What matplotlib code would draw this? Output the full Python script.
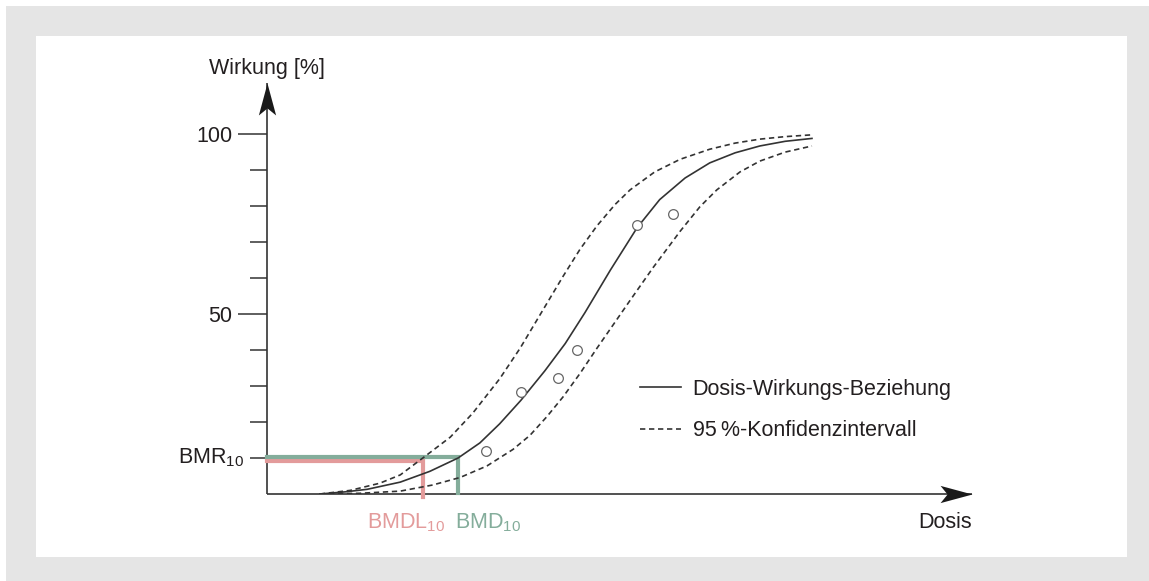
import numpy as np
import matplotlib
matplotlib.use('Agg')
import matplotlib.pyplot as plt
from matplotlib.path import Path
from matplotlib.patches import Rectangle
from matplotlib import transforms

plt.rcParams['font.family'] = ['Liberation Sans', 'DejaVu Sans']
plt.rcParams['mathtext.fontset'] = 'custom'
plt.rcParams['mathtext.rm'] = 'Liberation Sans'

# dose-response fit and its 95 % band (dose in arbitrary units, effect in %)
dose_fit = [0.75, 1.11, 1.42, 1.89, 2.31, 2.71, 3.02, 3.30, 3.60, 3.94, 4.23,
            4.51, 4.87, 5.25, 5.57, 5.93, 6.28, 6.64, 6.99, 7.35, 7.73]
resp_fit = [0.0, 0.6, 1.3, 3.3, 6.3, 10.0, 14.2, 19.5, 26.0, 34.2, 41.8,
            50.4, 62.2, 74.0, 81.8, 87.8, 92.0, 94.8, 96.7, 98.0, 98.8]

dose_upper = [0.75, 1.18, 1.60, 1.89, 2.21, 2.60, 2.92, 3.30, 3.59, 3.91, 4.20,
              4.44, 4.68, 4.94, 5.15, 5.50, 5.86, 6.28, 6.64, 6.99, 7.35, 7.73]
resp_upper = [0.0, 1.0, 3.0, 5.3, 10.0, 15.8, 22.5, 32.0, 40.5, 51.0, 60.5,
              68.0, 74.5, 80.5, 84.5, 89.5, 93.0, 95.8, 97.5, 98.6, 99.3, 99.8]

dose_lower = [0.75, 1.32, 1.89, 2.35, 2.74, 3.12, 3.49, 3.73, 3.97, 4.20, 4.44,
              4.68, 4.91, 5.15, 5.48, 5.86, 6.14, 6.38, 6.71, 6.99, 7.35, 7.73]
resp_lower = [0.0, 0.2, 0.8, 2.5, 4.6, 7.8, 12.4, 16.3, 21.5, 27.0, 33.5,
              40.5, 47.0, 53.8, 63.0, 73.0, 79.8, 84.5, 89.5, 92.5, 95.0, 96.7]

# observed responses
dose_obs = [3.11, 3.60, 4.13, 4.40, 5.25, 5.76]
resp_obs = [11.9, 28.3, 32.2, 40.0, 74.7, 77.8]

bmr = 10
bmd = 2.71
bmdl = 2.21

ink = '#333333'
text_col = '#231f20'
green = '#84ad9b'
pink = '#e39b9b'
fs = 15.5

fig = plt.figure(figsize=(11.49, 5.81), dpi=100)
fig.patches.append(Rectangle((6 / 1149, 0), 1, 575 / 581, transform=fig.transFigure,
                             facecolor='#e5e5e5', edgecolor='none', zorder=-2))
fig.patches.append(Rectangle((36 / 1149, 24 / 581), 1091 / 1149, 521 / 581,
                             transform=fig.transFigure, facecolor='white',
                             edgecolor='none', zorder=-1))

ax = fig.add_axes([267 / 1149, 87 / 581, 705 / 1149, 411 / 581])
ax.set_facecolor('none')
ax.set_xlim(0, 10)
ax.set_ylim(0, 114.2)
for s in ax.spines.values():
    s.set_visible(False)

# axis lines with stealth arrow heads
ax.plot([0, 10], [0, 0], color=ink, lw=1.2, clip_on=False, solid_capstyle='butt')
ax.plot([0, 0], [0, 114.2], color=ink, lw=1.2, clip_on=False, solid_capstyle='butt')
head_x = Path([(0, 0), (-1, 0.27), (-0.78, 0), (-1, -0.27), (0, 0)],
              [Path.MOVETO, Path.LINETO, Path.LINETO, Path.LINETO, Path.CLOSEPOLY])
head_y = Path([(0, 0), (0.27, -1), (0, -0.78), (-0.27, -1), (0, 0)],
              [Path.MOVETO, Path.LINETO, Path.LINETO, Path.LINETO, Path.CLOSEPOLY])
ax.plot(10, 0, marker=head_x, markersize=46, color='#1a1a1a', mew=0, clip_on=False)
ax.plot(0, 114.2, marker=head_y, markersize=46, color='#1a1a1a', mew=0, clip_on=False)

# y ticks
ax.set_yticks([50, 100])
ax.set_yticklabels(['50', '100'])
ax.set_yticks([10, 20, 30, 40, 60, 70, 80, 90], minor=True)
ax.tick_params(axis='y', which='major', length=21, width=1.1, color=ink,
               labelsize=fs, labelcolor=text_col, pad=4)
ax.tick_params(axis='y', which='minor', length=12.5, width=1.1, color=ink)
ax.set_xticks([])

# benchmark lines
up = transforms.ScaledTranslation(0, 1 / 100, fig.dpi_scale_trans)
down = transforms.ScaledTranslation(0, -3 / 100, fig.dpi_scale_trans)
ax.plot([0, bmdl, bmdl], [bmr, bmr, 0], color=pink, lw=3, solid_joinstyle='miter',
        transform=ax.transData + down, zorder=2, clip_on=False)
ax.plot([0, bmd, bmd], [bmr, bmr, 0], color=green, lw=3, solid_joinstyle='miter',
        transform=ax.transData + up, zorder=3, clip_on=False)

# curves
ax.plot(dose_fit, resp_fit, color=ink, lw=1.2, zorder=4,
        label='Dosis-Wirkungs-Beziehung')
ax.plot(dose_upper, resp_upper, color=ink, lw=1.2, ls=(0, (3.2, 2.2)), zorder=4,
        label='95\u2009%-Konfidenzintervall')
ax.plot(dose_lower, resp_lower, color=ink, lw=1.2, ls=(0, (3.2, 2.2)), zorder=4)
ax.plot(dose_obs, resp_obs, ls='none', marker='o', markersize=7, mfc='white',
        mec='#666666', mew=0.9, zorder=5)

# labels
ax.text(0, 118.3, 'Wirkung [%]', ha='center', va='center', fontsize=fs, color=text_col)
ax.text(10, -8, 'Dosis', ha='right', va='center', fontsize=fs, color=text_col)
ax.annotate(r'BMR$_\mathregular{10}$', xy=(0, bmr), xytext=(-16.5, 0),
            textcoords='offset points', ha='right', va='center', fontsize=fs, color=text_col)
ax.annotate(r'BMDL$_\mathregular{10}$', xy=(bmd, 0), xytext=(-9, -21),
            textcoords='offset points', ha='right', va='center', fontsize=fs, color=pink)
ax.annotate(r'BMD$_\mathregular{10}$', xy=(bmd, 0), xytext=(-2, -21),
            textcoords='offset points', ha='left', va='center', fontsize=fs, color=green)

leg = ax.legend(loc='center left', bbox_to_anchor=(640 / 1149, 171 / 581),
                bbox_transform=fig.transFigure, frameon=False, fontsize=fs,
                handlelength=1.9, handletextpad=0.55, labelspacing=0.95,
                borderpad=0, borderaxespad=0)
for t in leg.get_texts():
    t.set_color(text_col)

fig.savefig('out.png', dpi=100)
